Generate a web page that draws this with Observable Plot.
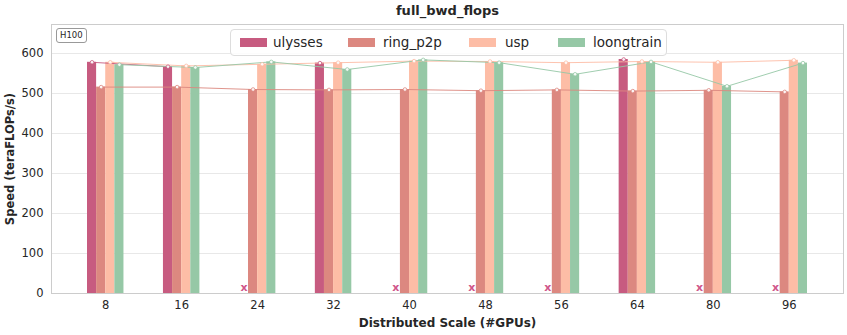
<!DOCTYPE html>
<html>
<head>
<meta charset="utf-8">
<script src="https://cdn.jsdelivr.net/npm/d3@7"></script>
<script src="https://cdn.jsdelivr.net/npm/@observablehq/plot@0.6"></script>
<style>
  html, body { margin: 0; padding: 0; background: #fff; }
  #wrap { position: relative; width: 847px; height: 335px; font-family: "DejaVu Sans", sans-serif; }
  #legend { position: absolute; left: 230px; top: 29px; width: 437px; height: 27px; box-sizing: border-box;
    border: 1px solid #dddddd; border-radius: 4px; background: rgba(255,255,255,0.85);
    font-size: 13.5px; color: #262626; }
  #legend .sw { position: absolute; top: 8px; width: 27px; height: 9px; }
  #legend .tx { position: absolute; top: 4px; line-height: 16px; white-space: nowrap; }
  #tag { position: absolute; left: 56px; top: 28px; padding: 1px 3px; font-size: 8.5px; color: #262626;
    border: 1px solid #999; border-radius: 3px; background: #fff; line-height: 11px; }
</style>
</head>
<body>
<div id="wrap"></div>
<script>
const categories = ["8", "16", "24", "32", "40", "48", "56", "64", "80", "96"];
const seriesNames = ["ulysses", "ring_p2p", "usp", "loongtrain"];
const seriesColors = ["#c75b80", "#dc8880", "#fdbda6", "#96c8a6"];
const ulysses    = [578, 567, null, 576, null, null, null, 585, null, null];
const ring_p2p   = [516, 516, 510, 509, 510, 507, 509, 506, 508, 504];
const usp        = [578, 569, 573, 577, 581, 580, 577, 580, 578, 583];
const loongtrain = [572, 565, 579, 560, 584, 577, 548, 579, 518, 576];
const yTicks = [0, 100, 200, 300, 400, 500, 600];

const seriesValues = [ulysses, ring_p2p, usp, loongtrain];
const w = 0.12;
const rows = [];
seriesValues.forEach((vals, k) => {
  vals.forEach((v, i) => {
    rows.push({
      series: seriesNames[k], i, value: v == null ? NaN : v,
      x1: i + (k - 2) * w, x2: i + (k - 1) * w, xc: i + (k - 1.5) * w
    });
  });
});
const defined = rows.filter(d => !isNaN(d.value));
const missing = rows.filter(d => isNaN(d.value));

const chart = Plot.plot({
  width: 847, height: 335,
  marginLeft: 51, marginRight: 4, marginTop: 24, marginBottom: 42,
  style: { fontFamily: "DejaVu Sans", fontSize: "11px", color: "#262626", background: "#fff" },
  x: { domain: [-0.714, 9.714], axis: null },
  y: { domain: [0, 672.5], axis: null },
  color: { domain: seriesNames, range: seriesColors },
  marks: [
    Plot.gridY(yTicks, { stroke: "#e8e8e8", strokeOpacity: 1, strokeWidth: 1 }),
    Plot.rectY(defined, { x1: "x1", x2: "x2", y: "value", fill: "series" }),
    Plot.line(rows, { x: "xc", y: "value", z: "series", stroke: "series", strokeWidth: 1, strokeOpacity: 0.9 }),
    Plot.dot(defined, { x: "xc", y: "value", r: 1.8, fill: "#fff", fillOpacity: 0.9, stroke: "series", strokeWidth: 0.8 }),
    Plot.text(missing.filter(d => d.series === "ulysses"), { x: "xc", y: 0, text: () => "x", dy: -6, fill: "#d0568a", fontWeight: "bold", fontSize: 11 }),
    Plot.frame({ stroke: "#cccccc", strokeWidth: 1 }),
    Plot.axisX({ ticks: d3.range(categories.length), tickFormat: i => categories[i], tickSize: 0, tickPadding: 7, fontSize: 11.5, label: null }),
    Plot.axisY({ ticks: yTicks, tickSize: 0, tickPadding: 8, fontSize: 11.5, label: null }),
    Plot.text(["full_bwd_flops"], { frameAnchor: "top", lineAnchor: "middle", dy: -14, fontWeight: "bold", fontSize: 13, fill: "#262626" }),
    Plot.text(["Distributed Scale (#GPUs)"], { frameAnchor: "bottom", lineAnchor: "middle", dy: 30, fontWeight: "bold", fontSize: 12, fill: "#262626" }),
    Plot.text(["Speed (teraFLOPs/s)"], { frameAnchor: "left", textAnchor: "middle", lineAnchor: "middle", rotate: -90, dx: -41, fontWeight: "bold", fontSize: 11.5, fill: "#262626" })
  ]
});

const wrap = document.getElementById("wrap");
wrap.appendChild(chart);

const tag = document.createElement("div");
tag.id = "tag";
tag.textContent = "H100";
wrap.appendChild(tag);

const legendSwatchLeft = [9, 117, 238, 327];
const legendTextLeft = [42, 152, 274, 362];
const legend = document.createElement("div");
legend.id = "legend";
seriesNames.forEach((name, k) => {
  const sw = document.createElement("span");
  sw.className = "sw";
  sw.style.left = legendSwatchLeft[k] + "px";
  sw.style.background = seriesColors[k];
  legend.appendChild(sw);
  const t = document.createElement("span");
  t.className = "tx";
  t.style.left = legendTextLeft[k] + "px";
  t.textContent = name;
  legend.appendChild(t);
});
wrap.appendChild(legend);
</script>
</body>
</html>
